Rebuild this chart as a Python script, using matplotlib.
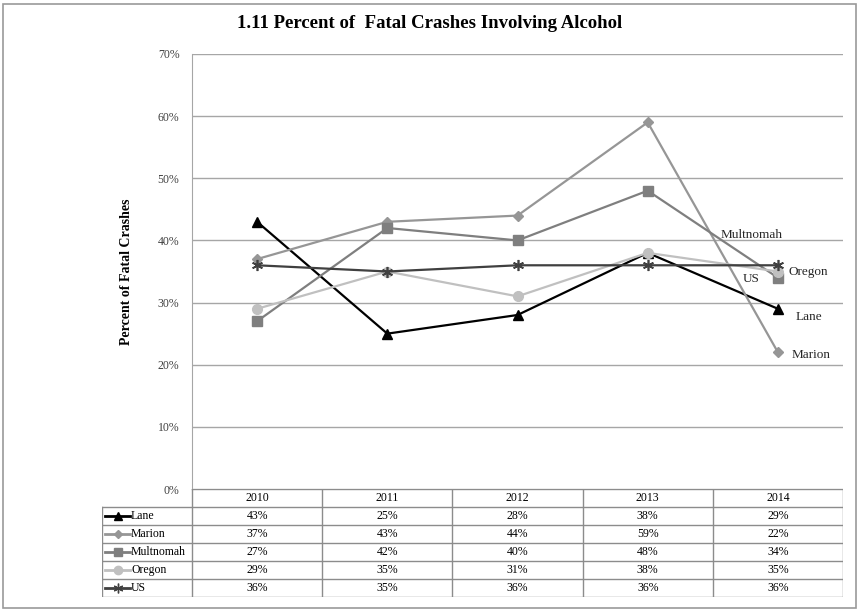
import numpy as np
import matplotlib
matplotlib.use('Agg')
import matplotlib.pyplot as plt
from matplotlib.patches import Rectangle

plt.rcParams['font.family'] = ['Liberation Serif', 'DejaVu Serif']

years = ['2010', '2011', '2012', '2013', '2014']
lane = [43, 25, 28, 38, 29]
marion = [37, 43, 44, 59, 22]
multnomah = [27, 42, 40, 48, 34]
oregon = [29, 35, 31, 38, 35]
us = [36, 35, 36, 36, 36]

names = ['Lane', 'Marion', 'Multnomah', 'Oregon', 'US']
series = [lane, marion, multnomah, oregon, us]
colors = ['#000000', '#969696', '#7f7f7f', '#c0c0c0', '#404040']
markers = ['^', 'D', 's', 'o', (6, 2, 0)]
msizes = [7, 5, 7, 7, 8]
# label offsets (points) from the 2014 point
lab_off = {'Lane': (22, -6), 'Marion': (24, -2), 'Multnomah': (-19, 31),
           'Oregon': (22, 0), 'US': (-19, -10)}

W, H = 859, 611
fig = plt.figure(figsize=(W / 100, H / 100), dpi=100)
fig.patches.append(Rectangle((3 / W, 3 / H), 853 / W, 604 / H, transform=fig.transFigure,
                             fill=False, edgecolor='#9a9a9a', lw=1.2))

x0, x1, ytop, ybot = 192, 843, 54, 489
ax = fig.add_axes([x0 / W, 1 - ybot / H, (x1 - x0) / W, (ybot - ytop) / H])
xs = np.arange(len(years))
ax.set_xlim(-0.5, len(years) - 0.5)
ax.set_ylim(0, 70)
ax.set_yticks(range(0, 71, 10))
ax.set_yticklabels([f'{v}%' for v in range(0, 71, 10)], fontsize=8.5, color='#404040')
ax.set_xticks([])
ax.grid(axis='y', color='#a6a6a6', lw=1)
ax.set_axisbelow(True)
for s in ['top', 'right', 'bottom']:
    ax.spines[s].set_visible(False)
ax.spines['left'].set_color('#a6a6a6')
ax.tick_params(axis='y', length=0, pad=9)
ax.set_ylabel('Percent of Fatal Crashes', fontsize=10, fontweight='bold', labelpad=18)

for name, vals, c, m, ms in zip(names, series, colors, markers, msizes):
    ax.plot(xs, vals, color=c, lw=1.6, marker=m, markersize=ms, markeredgecolor=c,
            markerfacecolor=c, markeredgewidth=1.2 if name == 'US' else 1, clip_on=False)
    ax.annotate(name, (xs[-1], vals[-1]), xytext=lab_off[name], textcoords='offset points',
                ha='center', va='center', fontsize=9.5, color='#262626')

fig.text(0.5, 1 - 24 / H, '1.11 Percent of  Fatal Crashes Involving Alcohol', ha='center',
         va='center', fontsize=13.5, fontweight='bold')

# data table below the plot
tl, trow = 102, 18
tax = fig.add_axes([tl / W, 1 - (ybot + 6 * trow) / H, (x1 - tl) / W, 6 * trow / H])
unit = (x1 - x0) / len(years)
left = -0.5 - (x0 - tl) / unit
tax.set_xlim(left, len(years) - 0.5)
tax.set_ylim(6, 0)
tax.axis('off')
lc = '#8c8c8c'
tax.plot([-0.5, len(years) - 0.5], [0, 0], color=lc, lw=1)
for r in range(1, 7):
    tax.plot([left, len(years) - 0.5], [r, r], color=lc, lw=1)
tax.plot([left, left], [1, 6], color=lc, lw=1)
for k in range(len(years) + 1):
    tax.plot([k - 0.5, k - 0.5], [0, 6], color=lc, lw=1)
for k, y in enumerate(years):
    tax.text(k, 0.5, y, ha='center', va='center', fontsize=8.5)
for r, (name, vals, c, m, ms) in enumerate(zip(names, series, colors, markers, msizes)):
    yc = r + 1.5
    tax.plot([left + 3 / unit, left + 28 / unit], [yc, yc], color=c, lw=2)
    tax.plot([left + 15.5 / unit], [yc], marker=m, color=c, markersize=ms - 1, markeredgecolor=c)
    tax.text(left + 29 / unit, yc, name, ha='left', va='center', fontsize=8.5)
    for k, v in enumerate(vals):
        tax.text(k, yc, f'{v}%', ha='center', va='center', fontsize=8.5)

fig.savefig('out.png', dpi=100)
